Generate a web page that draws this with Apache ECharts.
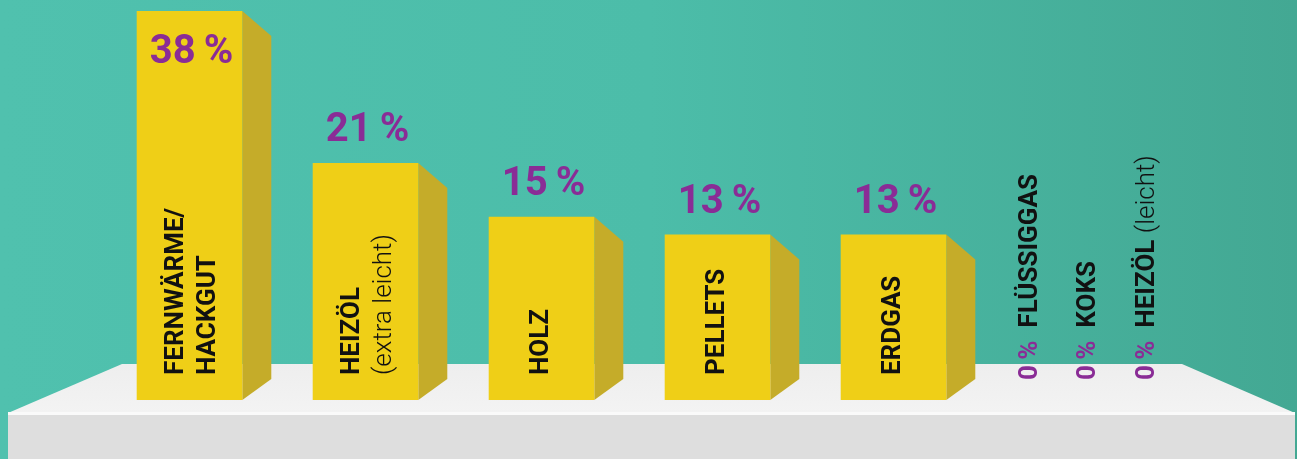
<!DOCTYPE html>
<html>
<head>
<meta charset="utf-8">
<title>Heizungsarten</title>
<script src="https://cdn.jsdelivr.net/npm/echarts@6/dist/echarts.min.js"></script>
<style>
html, body { margin: 0; padding: 0; }
#main { width: 1297px; height: 459px; }
</style>
</head>
<body>
<div id="main"></div>
<script>
// Anteile der Heizungsarten
var names  = ['FERNWÄRME/\nHACKGUT', 'HEIZÖL', 'HOLZ', 'PELLETS', 'ERDGAS', 'FLÜSSIGGAS', 'KOKS', 'HEIZÖL'];
var notes  = ['', '(extra leicht)', '', '', '', '', '', '(leicht)'];
var shares = [38, 21, 15, 13, 13, 0, 0, 0];

var Y_MIN = -5.5, Y_MAX = 38;
var FONT = 'Roboto, "Noto Sans", sans-serif';
var YELLOW = '#efcf17', SIDE = '#c5ac29', PURPLE = '#8a2c96', INK = '#111111';

// Balken und 0%-Einträge getrennt
var barIdx = [], zeroIdx = [];
shares.forEach(function (v, i) { (v > 0 ? barIdx : zeroIdx).push(i); });

var rich = {
    b: { fontFamily: FONT, fontWeight: 'bold', fontSize: 26, fill: INK, lineHeight: 32 },
    l: { fontFamily: FONT, fontWeight: 300, fontSize: 26, fill: INK, lineHeight: 32 },
    p: { fontFamily: FONT, fontWeight: 'bold', fontSize: 26, fill: PURPLE, lineHeight: 32 }
};

function richName(i, sep) {
    var s = names[i].split('\n').map(function (t) { return '{b|' + t + '}'; }).join('\n');
    if (notes[i]) s += sep + '{l|' + notes[i] + '}';
    return s;
}
function pct(v) { return v + '\u2009%'; }

function renderBar(params, api) {
    var i = api.value(0), v = api.value(1);
    var top = api.coord([i, v]);
    var base = api.coord([i, Y_MIN]);
    var w = api.size([1, 0])[0] * 0.6;
    var x0 = top[0] - w / 2, x1 = top[0] + w / 2;
    var d = 29, drop = 25, rise = 21;
    var idx = barIdx[params.dataIndex];
    var inside = top[1] - 50 < 0;
    var multi = names[idx].indexOf('\n') > -1 || !!notes[idx];
    return {
        type: 'group',
        children: [
            { type: 'polygon', shape: { points: [[x1, top[1]], [x1 + d, top[1] + drop], [x1 + d, base[1] - rise], [x1, base[1]]] }, style: { fill: SIDE } },
            { type: 'rect', shape: { x: x0, y: top[1], width: w, height: base[1] - top[1] }, style: { fill: YELLOW } },
            { type: 'text', x: top[0] + 2, y: inside ? top[1] + 22 : top[1] - 12,
              style: { text: pct(v), fill: PURPLE, fontFamily: FONT, fontWeight: 'bold', fontSize: 40,
                       align: 'center', verticalAlign: inside ? 'top' : 'bottom' } },
            { type: 'text', x: top[0] + (multi ? 3 : 0), y: base[1] - 25, rotation: Math.PI / 2,
              style: { text: richName(idx, '\n'), rich: rich, align: 'left', verticalAlign: 'middle' } }
        ]
    };
}

function renderZero(params, api) {
    var p = api.coord([api.value(0), Y_MIN]);
    var idx = zeroIdx[params.dataIndex];
    return {
        type: 'text', x: p[0], y: p[1] - 20, rotation: Math.PI / 2,
        style: { text: '{p|' + pct(0) + '}{b|  }' + richName(idx, '{b| }'), rich: rich, align: 'left', verticalAlign: 'middle' }
    };
}

var chart = echarts.init(document.getElementById('main'));
chart.setOption({
    animation: false,
    backgroundColor: {
        type: 'linear', x: 0, y: 0, x2: 1, y2: 0,
        colorStops: [{ offset: 0, color: '#50c1ae' }, { offset: 0.5, color: '#4cbda9' }, { offset: 1, color: '#43a893' }]
    },
    grid: [
        { left: 101.5, top: 11, width: 880, height: 389 },
        { left: 1000.75, top: 11, width: 175.5, height: 389 }
    ],
    xAxis: [
        { type: 'category', gridIndex: 0, data: barIdx.map(function (i) { return names[i]; }), show: false },
        { type: 'category', gridIndex: 1, data: zeroIdx.map(function (i) { return names[i]; }), show: false }
    ],
    yAxis: [
        { type: 'value', gridIndex: 0, min: Y_MIN, max: Y_MAX, show: false },
        { type: 'value', gridIndex: 1, min: Y_MIN, max: Y_MAX, show: false }
    ],
    // Podest
    graphic: { elements: [
        { type: 'polygon', z: 0, shape: { points: [[8, 413], [122, 364], [1182, 364], [1295, 413]] },
          style: { fill: { type: 'linear', x: 0, y: 0, x2: 0, y2: 1,
                   colorStops: [{ offset: 0, color: '#eeeeee' }, { offset: 1, color: '#f3f3f3' }] } } },
        { type: 'rect', z: 0, shape: { x: 8, y: 413, width: 1287, height: 46 }, style: { fill: '#dedede' } },
        { type: 'rect', z: 0, shape: { x: 8, y: 412, width: 1287, height: 3 }, style: { fill: '#fafafa' } }
    ] },
    series: [
        { type: 'custom', xAxisIndex: 0, yAxisIndex: 0, z: 5, renderItem: renderBar,
          encode: { x: 0, y: 1 },
          data: barIdx.map(function (i, k) { return [k, shares[i]]; }) },
        { type: 'custom', xAxisIndex: 1, yAxisIndex: 1, z: 5, renderItem: renderZero,
          encode: { x: 0, y: 1 },
          data: zeroIdx.map(function (i, k) { return [k, shares[i]]; }) }
    ]
});
</script>
</body>
</html>
